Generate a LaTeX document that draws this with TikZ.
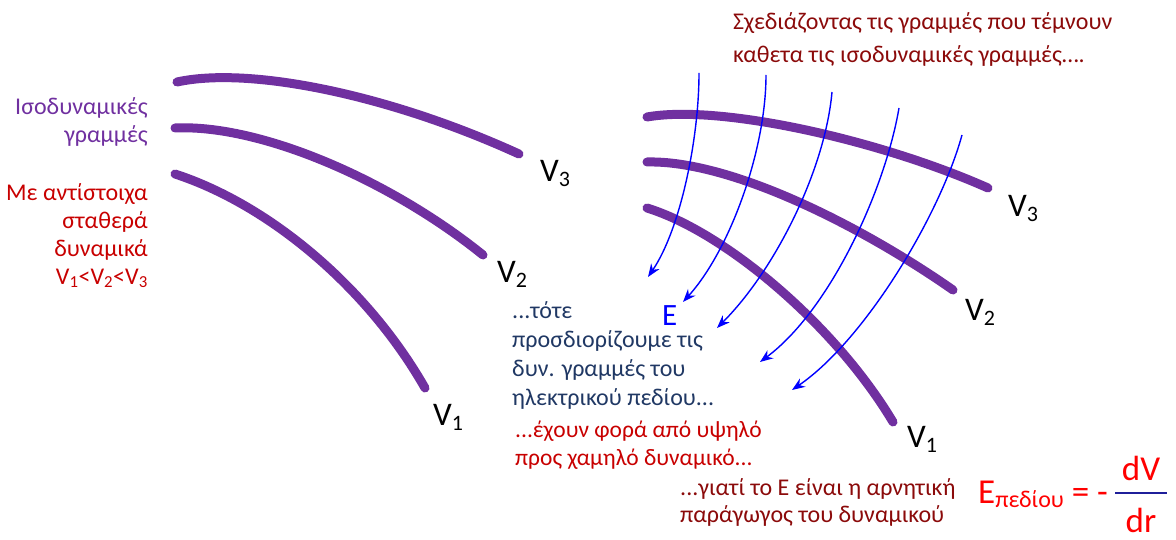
\documentclass[tikz,border=0pt]{standalone}
\usepackage{fontspec}
\setmainfont{Carlito}
\usetikzlibrary{arrows.meta}
\definecolor{eqpurple}{HTML}{7030A0}
\definecolor{navytext}{HTML}{203864}
\definecolor{brightred}{HTML}{C80000}
\definecolor{darkred}{HTML}{8B0A0A}
\definecolor{fracblue}{HTML}{1F1F9A}
\newcommand{\Vsub}[1]{V\raisebox{-5pt}{\fontsize{22}{22}\selectfont #1}}
\begin{document}
\begin{tikzpicture}[x=1pt,y=-1pt,
  eqline/.style={line width=9pt, draw=eqpurple, line cap=round},
  fieldline/.style={draw=blue, line width=1.4pt, -{Stealth[length=13pt,width=10pt]}},
  vlabel/.style={font=\fontsize{33}{38}\selectfont, text=black, inner sep=0pt, anchor=base west},
  body/.style={font=\fontsize{24}{28}\selectfont, inner sep=0pt},
]
\useasboundingbox (0,0) rectangle (1176,540);

% ---- left equipotential lines
\draw[eqline] (177,82) .. controls (250,66) and (390,95) .. (519,154);
\draw[eqline] (175,128) .. controls (260,124) and (390,180) .. (483,255);
\draw[eqline] (175,174) .. controls (270,205) and (368,288) .. (425,388);

\node[vlabel] (lv3) at (540,182) {\Vsub{3}};
\node[vlabel] (lv2) at (497,283) {\Vsub{2}};
\node[vlabel] (lv1) at (433,425) {\Vsub{1}};

% ---- right equipotential lines
\draw[eqline] (647,117) .. controls (720,104) and (880,140) .. (988,188);
\draw[eqline] (647,162) .. controls (730,160) and (860,225) .. (953,290);
\draw[eqline] (647,208) .. controls (725,232) and (835,325) .. (893,422);

\node[vlabel] (rv3) at (1008,217) {\Vsub{3}};
\node[vlabel] (rv2) at (965,320) {\Vsub{2}};
\node[vlabel] (rv1) at (907,447) {\Vsub{1}};

% ---- field lines
\coordinate (a1s) at (699,73);  \coordinate (a1e) at (648,277);
\coordinate (a2s) at (766,75);  \coordinate (a2e) at (683,302);
\coordinate (a3s) at (832,92);  \coordinate (a3e) at (717,328);
\coordinate (a4s) at (899,108); \coordinate (a4e) at (760,362);
\coordinate (a5s) at (962,135); \coordinate (a5e) at (792,390);
\draw[fieldline] (a1s) .. controls (699,140) and (680,230) .. (a1e);
\draw[fieldline] (a2s) .. controls (766,150) and (730,250) .. (a2e);
\draw[fieldline] (a3s) .. controls (825,170) and (775,270) .. (a3e);
\draw[fieldline] (a4s) .. controls (885,190) and (830,310) .. (a4e);
\draw[fieldline] (a5s) .. controls (940,215) and (865,340) .. (a5e);

\node[font=\fontsize{31}{36}\selectfont, text=blue, inner sep=0pt, anchor=base west] (E) at (662,326) {E};

% ---- texts (base anchor = baseline of the last line)
\node[body, text=eqpurple, align=right, anchor=base east] (iso) at (148,143)
  {Ισοδυναμικές\\γραμμές};
\node[body, text=brightred, align=right, anchor=base east] (const) at (148,284)
  {Με αντίστοιχα\\σταθερά\\δυναμικά\\V\textsubscript{1}<V\textsubscript{2}<V\textsubscript{3}};
\node[body, font=\fontsize{24}{33}\selectfont, text=darkred, align=left, anchor=base west] (draw) at (733,63)
  {Σχεδιάζοντας τις γραμμές που τέμνουν\\καθετα τις ισοδυναμικές γραμμές….};
\node[body, font=\fontsize{24}{29}\selectfont, text=navytext, align=left, anchor=base west] (then) at (512,405)
  {...τότε\\προσδιορίζουμε τις\\δυν. γραμμές του\\ηλεκτρικού πεδίου...};
\node[body, font=\fontsize{23.5}{28}\selectfont, text=brightred, align=left, anchor=base west] (dir) at (515,465)
  {...έχουν φορά από υψηλό\\προς χαμηλό δυναμικό...};
\node[body, font=\fontsize{24}{27}\selectfont, text=darkred, align=left, anchor=base west] (why) at (680,522)
  {...γιατί το Ε είναι η αρνητική\\παράγωγος του δυναμικού};

% ---- formula
\node[font=\fontsize{35}{40}\selectfont, text=red, inner sep=0pt, anchor=base west] (Ef) at (978,503)
  {E\raisebox{-4pt}{\fontsize{24}{24}\selectfont πεδίου} = -};
\node[font=\fontsize{35}{40}\selectfont, text=red, inner sep=0pt, anchor=base] (dV) at (1141,480) {dV};
\node[font=\fontsize{35}{40}\selectfont, text=red, inner sep=0pt, anchor=base] (dr) at (1141,532) {dr};
\coordinate (fl) at (1115,493);
\coordinate (fr) at (1167,493);
\draw[fracblue, line width=2pt] (fl) -- (fr);
\end{tikzpicture}
\end{document}
